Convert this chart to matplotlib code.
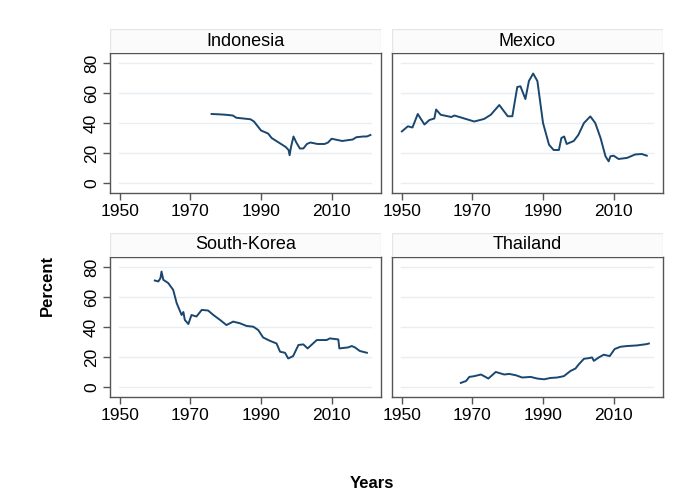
import matplotlib.pyplot as plt
from matplotlib.patches import Rectangle

plt.rcParams['font.family'] = ['Liberation Sans', 'DejaVu Sans']

countries = ["Indonesia", "Mexico", "South-Korea", "Thailand"]

indonesia_years = [1976, 1978, 1980, 1982, 1983, 1985, 1987, 1988, 1989, 1990, 1991, 1992,
                   1993, 1995, 1997, 1997.8, 1998.1, 1998.5, 1999.2, 2000, 2001, 2002, 2003,
                   2004, 2005, 2006, 2008, 2009, 2010, 2011, 2013, 2016, 2017, 2019, 2020, 2021]
indonesia_vals = [46, 45.8, 45.5, 45, 43.5, 43, 42.5, 41, 38, 35, 34, 33,
                  30, 27, 24, 22, 18.5, 24, 31, 27, 23, 23, 26,
                  27, 26.5, 26, 26, 27, 29.5, 29, 28, 29, 30.5, 31, 31, 32]

mexico_years = [1950, 1951.7, 1953, 1954.5, 1956.4, 1957.8, 1959.2, 1959.7, 1961, 1964, 1964.9,
                1967.7, 1970.5, 1973.3, 1975.2, 1977.6, 1980, 1981.3, 1982.7, 1983.6, 1985,
                1986, 1987.2, 1988.4, 1990, 1991.7, 1993, 1994.5, 1995.2, 1996, 1996.7, 1998.7,
                2000, 2001.6, 2003.4, 2004.8, 2006.3, 2007.7, 2008.6, 2009.1, 2010, 2011.4,
                2013.8, 2016.1, 2018, 2019.4]
mexico_vals = [34.4, 37.8, 37, 46, 39, 42, 43, 49, 45.5, 44, 45,
               43, 41, 42.7, 45.5, 52, 44.5, 44.5, 64, 64.5, 56,
               68, 73, 68, 40, 25.5, 22, 22, 30, 31, 26, 28,
               32, 40, 44.4, 40, 30, 17.8, 14.4, 17.8, 18.2, 16,
               16.7, 19, 19.3, 18.2]

korea_years = [1959.9, 1960.9, 1961.5, 1961.8, 1962.3, 1963.7, 1965.1, 1966.1, 1967.5, 1968,
               1968.4, 1969.4, 1970.3, 1971.7, 1973.2, 1975, 1976.5, 1978.4, 1980.2, 1982.1,
               1984, 1985.9, 1987.8, 1989.2, 1990.6, 1992.5, 1994.4, 1995.4, 1996.8, 1997.7,
               1999.1, 2000.6, 2002, 2003.2, 2005.8, 2008.6, 2009.5, 2011.9, 2012.2, 2014.7,
               2015.7, 2016.6, 2018, 2020]
korea_vals = [71, 70.4, 72.6, 77, 71.5, 69.3, 64.8, 55.9, 48, 50,
              44.7, 42, 48, 47, 51.4, 51, 48, 44.7, 41.3, 43.6,
              42.5, 40.7, 40.2, 38, 33, 30.8, 29, 23.5, 22.8, 19,
              20.6, 28, 28.4, 25.7, 31.3, 31.3, 32.4, 31.7, 25.7, 26.4,
              27.3, 26.4, 24, 22.8]

thailand_years = [1966.7, 1968.2, 1969.1, 1970.5, 1972.4, 1973.3, 1974.5, 1976.6, 1979, 1980.4,
                  1982.3, 1984.1, 1986.5, 1988.4, 1990.3, 1992.1, 1994, 1995.9, 1997.8, 1999.2,
                  2000.1, 2001.6, 2002.9, 2003.9, 2004.4, 2005.8, 2007.2, 2008.9, 2010.3, 2011.9,
                  2013.8, 2016.6, 2019.4, 2020]
thailand_vals = [2.7, 4, 6.7, 7.2, 8.3, 7.2, 5.6, 10, 8.3, 8.7,
                 7.8, 6.3, 6.7, 5.6, 5.1, 6, 6.3, 7.2, 10.7, 12.3,
                 15, 18.8, 19.2, 19.7, 17.4, 19.7, 21.5, 20.6, 25.3, 26.8,
                 27.3, 27.7, 28.6, 29]

series = [(indonesia_years, indonesia_vals), (mexico_years, mexico_vals),
          (korea_years, korea_vals), (thailand_years, thailand_vals)]

x_ticks = [1950, 1970, 1990, 2010]
y_ticks = [0, 20, 40, 60, 80]

W, H = 683, 499
fig = plt.figure(figsize=(W / 100, H / 100), dpi=100)

# panel boxes in pixels
lefts = [110, 392]
tops = [53, 257]
pw, ph = 271, 140
title_h = 24

line_col = '#1a476f'
frame_col = '#555555'
grid_col = '#e8eef1'

for i, name in enumerate(countries):
    r, c = divmod(i, 2)
    l, t = lefts[c], tops[r]
    ax = fig.add_axes([l / W, 1 - (t + ph) / H, pw / W, ph / H])
    yrs, vals = series[i]
    ax.plot(yrs, vals, color=line_col, lw=1.4)
    ax.set_xlim(1947.2, 2024)
    ax.set_ylim(-6.7, 86.7)
    for yv in y_ticks:
        ax.axhline(yv, xmin=0.033, xmax=0.963, color=grid_col, lw=1, zorder=0)
    ax.set_xticks(x_ticks)
    ax.set_xticklabels([str(v) for v in x_ticks], fontsize=12.5)
    ax.tick_params(axis='x', direction='out', length=5, width=1, color=frame_col, pad=3)
    if c == 0:
        ax.set_yticks(y_ticks)
        ax.set_yticklabels([str(v) for v in y_ticks], fontsize=12.5, rotation=90, va='center')
        ax.tick_params(axis='y', direction='out', length=5, width=1, color=frame_col, pad=3)
    else:
        ax.set_yticks([])
    for sp in ax.spines.values():
        sp.set_color(frame_col)
        sp.set_linewidth(1)
    # title strip
    tax = fig.add_axes([l / W, 1 - t / H, pw / W, title_h / H])
    tax.set_xlim(0, 1)
    tax.set_ylim(0, 1)
    tax.axis('off')
    tax.add_patch(Rectangle((0, 0), 1, 1, facecolor='#fbfbfb', edgecolor='#e6e6e6', lw=1))
    tax.text(0.5, 0.5, name, ha='center', va='center', fontsize=13)

fig.text(47 / W, 1 - 285 / H, "Percent", rotation=90, ha='center', va='center',
         fontsize=12, fontweight='bold')
fig.text(372 / W, 1 - 484 / H, "Years", ha='center', va='center',
         fontsize=12, fontweight='bold')

fig.savefig("out.png", dpi=100, facecolor='white')
